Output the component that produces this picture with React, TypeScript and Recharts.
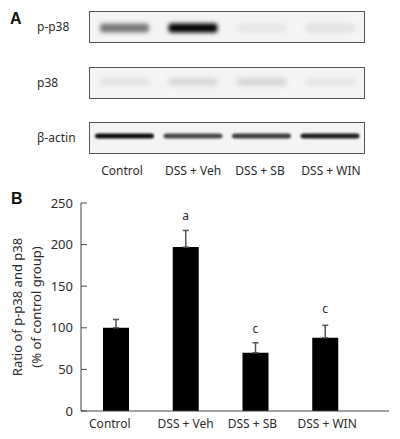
import { Bar, ComposedChart, ErrorBar, LabelList, Line, XAxis, YAxis } from 'recharts';

const GROUPS = ['Control', 'DSS + Veh', 'DSS + SB', 'DSS + WIN'];
const RATIO = [100, 197, 70, 88];
const RATIO_ERR = [10, 20, 12, 15];
const SIG_Y = [null, 234, 99, 122];
const SIG_LABEL = ['', 'a', 'c', 'c'];
const Y_TICKS = [0, 50, 100, 150, 200, 250];

const BLOT_NAMES = ['p-p38', 'p38', 'β-actin'];
const BLOT_TOPS = [11, 67, 122];
const BLOT_INTENSITY = [
  [0.5, 1, 0.05, 0.07],
  [0.08, 0.13, 0.14, 0.06],
  [0.95, 0.7, 0.75, 0.88],
];
const BLOT_BAND_H = [9, 7, 5];
const BLOT_BLUR = [2, 2.4, 1.2];
const BLOT_SHIFT = [1, -1, -2];
const BLOT_GAP = [10, 10, 5];
const BLOT_LABEL_X = [122, 193, 260, 331];
const AXIS_LABEL_DX = [-6, 0, -3, 2];

const FONT = '"Noto Sans", sans-serif';
const TEXT = '#2b2b2b';

const ratioData = GROUPS.map((name, i) => ({
  name,
  value: RATIO[i],
  err: [0, RATIO_ERR[i]],
  sigY: SIG_Y[i],
  sig: SIG_LABEL[i],
}));

// one smeared band on the membrane, darkness comes from the bar value
function BlotBand(props: any) {
  const { x, width, value, background, row } = props;
  const h = BLOT_BAND_H[row];
  const cy = background.y + background.height / 2 + BLOT_SHIFT[row];
  return (
    <rect
      x={x}
      y={cy - h / 2}
      width={width}
      height={h}
      rx={3}
      fill="#000"
      fillOpacity={value}
      filter={`url(#blur${row})`}
    />
  );
}

function Blot({ row }: { row: number }) {
  const data = GROUPS.map((name, i) => ({ name, value: BLOT_INTENSITY[row][i] }));
  return (
    <div style={{ position: 'absolute', left: 89, top: BLOT_TOPS[row], width: 276, height: 32, border: '1px solid #555', boxSizing: 'border-box', background: '#f4f4f4', overflow: 'hidden' }}>
      <ComposedChart width={274} height={30} data={data} margin={{ top: 0, right: 0, bottom: 0, left: 0 }} barCategoryGap={BLOT_GAP[row]}>
        <defs>
          <filter id={`blur${row}`} x="-20%" y="-150%" width="140%" height="400%">
            <feGaussianBlur stdDeviation={BLOT_BLUR[row]} />
          </filter>
        </defs>
        <XAxis dataKey="name" hide />
        <YAxis hide domain={[0, 1]} />
        <Bar dataKey="value" isAnimationActive={false} background={{ fill: 'none' }} shape={(p: any) => <BlotBand {...p} row={row} />} />
      </ComposedChart>
    </div>
  );
}

function SigLabel(props: any) {
  const { x, y, value } = props;
  if (!value) return null;
  return <text x={x} y={y} dy={4} textAnchor="middle" fontSize={12} fill={TEXT} fontFamily={FONT}>{value}</text>;
}

function GroupTick(props: any) {
  const { x, y, payload, index } = props;
  return <text x={x + AXIS_LABEL_DX[index]} y={y} dy={9} textAnchor="middle" fontSize={12} fill={TEXT} fontFamily={FONT}>{payload.value}</text>;
}

export default function App() {
  return (
    <div style={{ position: 'absolute', left: 0, top: 0, width: 400, height: 439, fontFamily: FONT, color: TEXT, background: '#fff' }}>
      <div style={{ position: 'absolute', left: 10, top: 10, fontFamily: 'Liberation Sans', fontWeight: 700, fontSize: 16, color: '#111' }}>A</div>
      <div style={{ position: 'absolute', left: 11, top: 190, fontFamily: 'Liberation Sans', fontWeight: 700, fontSize: 16, color: '#111' }}>B</div>
      {BLOT_NAMES.map((name, row) => (
        <div key={name} style={{ position: 'absolute', left: 37, top: BLOT_TOPS[row] + 8, fontSize: 12, lineHeight: '16px' }}>{name}</div>
      ))}
      {BLOT_NAMES.map((name, row) => <Blot key={name} row={row} />)}
      {GROUPS.map((name, i) => (
        <div key={name} style={{ position: 'absolute', left: BLOT_LABEL_X[i] - 40, width: 80, textAlign: 'center', top: 163, fontSize: 12, lineHeight: '16px' }}>{name}</div>
      ))}
      <div style={{ position: 'absolute', left: 0, top: 190 }}>
        <ComposedChart width={400} height={249} data={ratioData} margin={{ top: 13, right: 11, bottom: 0, left: 41 }} barSize={26}>
          <XAxis
            dataKey="name"
            height={28}
            padding={{ left: 0, right: 29 }}
            interval={0}
            axisLine={{ stroke: '#444' }}
            tickLine={false}
            tick={<GroupTick />}
          />
          <YAxis
            width={40}
            domain={[0, 250]}
            ticks={Y_TICKS}
            axisLine={{ stroke: '#444' }}
            tickLine={{ stroke: '#444' }}
            tickSize={-6}
            tickMargin={14}
            tick={{ fill: TEXT, fontSize: 13, fontFamily: FONT }}
          />
          <Bar dataKey="value" fill="#000" isAnimationActive={false}>
            <ErrorBar dataKey="err" direction="y" width={3} stroke="#555" strokeWidth={1.5} isAnimationActive={false} />
          </Bar>
          <Line dataKey="sigY" stroke="none" dot={false} isAnimationActive={false} connectNulls={false}>
            <LabelList dataKey="sig" content={<SigLabel />} />
          </Line>
        </ComposedChart>
      </div>
      <div style={{ position: 'absolute', left: 27, top: 307, width: 0, height: 0 }}>
        <div style={{ position: 'absolute', transform: 'translate(-50%,-50%) rotate(-90deg)', width: 200, textAlign: 'center', fontSize: 13, lineHeight: '19px', whiteSpace: 'nowrap' }}>
          Ratio of p-p38 and p38<br />(% of control group)
        </div>
      </div>
    </div>
  );
}
